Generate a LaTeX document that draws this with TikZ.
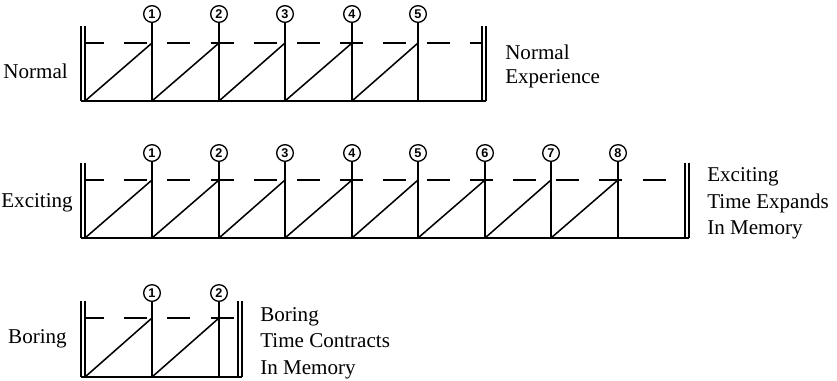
\documentclass[tikz,border=0pt]{standalone}
\usepackage{fontspec}
\setmainfont{Liberation Serif}
\newfontfamily\numfont{Liberation Sans}
\newcommand\timerowdraw[7]{%
  % #1 prefix, #2 circle y, #3 wall top, #4 dash y, #5 bottom y, #6 ticks, #7 right wall x
  \coordinate (#1-lot) at (81,#3);  \coordinate (#1-lob) at (81,#5);
  \coordinate (#1-lit) at (85,#3);  \coordinate (#1-lib) at (85,#5);
  \coordinate (#1-rit) at (#7,#3);  \coordinate (#1-rib) at (#7,#5);
  \coordinate (#1-rot) at (#7+4,#3); \coordinate (#1-rob) at (#7+4,#5);
  \coordinate (#1-ds) at (85,#4); \coordinate (#1-de) at (#7,#4);
  \coordinate (#1-b0) at (85,#5);
  \draw[wall] (#1-lot) -- (#1-lob);
  \draw[wall] (#1-lit) -- (#1-lib);
  \draw[wall] (#1-rit) -- (#1-rib);
  \draw[wall] (#1-rot) -- (#1-rob);
  \draw[line] (#1-lob) -- (#1-rob);
  \draw[dashline] (#1-ds) -- (#1-de);
  \foreach \i in {1,...,#6} {
    \pgfmathsetmacro\xx{round(152+66.5*(\i-1))}
    \node[marker] (#1-c\i) at (\xx,#2) {\i};
    \coordinate (#1-b\i) at (\xx,#5);
    \coordinate (#1-d\i) at (\xx,#4);
    \draw[line] (#1-c\i) -- (#1-b\i);
  }
  \foreach \i [evaluate=\i as \j using int(\i-1)] in {1,...,#6} {
    \draw[line] (#1-b\j) -- (#1-d\i);
  }
}
\begin{document}
\begin{tikzpicture}[x=0.75pt,y=-0.75pt,
  line/.style={line width=1.15pt},
  wall/.style={line width=1pt},
  dashline/.style={line width=1.15pt, dash pattern=on 17.25pt off 15.15pt, dash phase=3pt},
  marker/.style={circle, draw, line width=1pt, minimum size=12.5pt, inner sep=0pt,
    font=\numfont\bfseries\fontsize{9.5}{9.5}\selectfont},
  lbl/.style={inner sep=0pt, font=\fontsize{15.8}{18}\selectfont}]
\useasboundingbox (0,0) rectangle (837,380);

\timerowdraw{n}{14}{26}{43}{101}{5}{482}
\timerowdraw{e}{153}{163}{180}{238}{8}{685}
\timerowdraw{b}{293}{301}{318}{377}{2}{238}

\node[lbl, anchor=base east] (nl) at (68,78) {Normal};
\node[lbl, anchor=base west] (nr1) at (505,59) {Normal};
\node[lbl, anchor=base west] (nr2) at (505,83) {Experience};

\node[lbl, anchor=base east] (el) at (73,207) {Exciting};
\node[lbl, anchor=base west] (er1) at (707,181) {Exciting};
\node[lbl, anchor=base west] (er2) at (707,208) {Time Expands};
\node[lbl, anchor=base west] (er3) at (707,234) {In Memory};

\node[lbl, anchor=base east] (bl) at (67,343) {Boring};
\node[lbl, anchor=base west] (br1) at (260,321) {Boring};
\node[lbl, anchor=base west] (br2) at (260,347) {Time Contracts};
\node[lbl, anchor=base west] (br3) at (260,374) {In Memory};
\end{tikzpicture}
\end{document}
